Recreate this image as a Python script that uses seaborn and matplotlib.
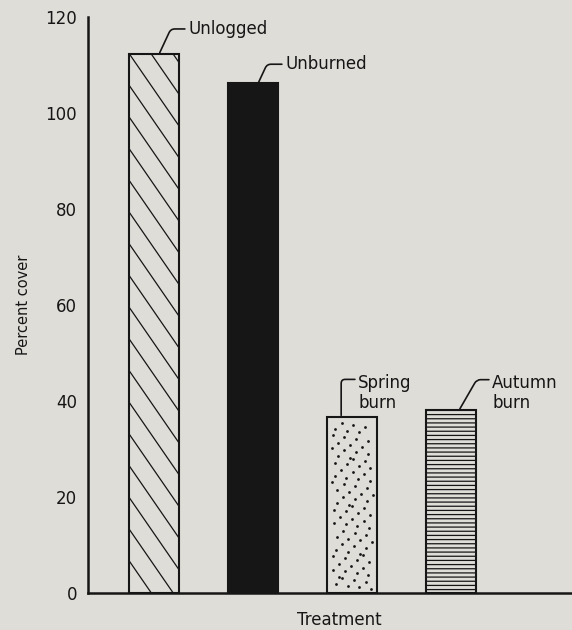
import numpy as np
import pandas as pd
import matplotlib
matplotlib.use("Agg")
import matplotlib.pyplot as plt
import seaborn as sns

# values
treatments = ["Unlogged", "Unburned", "Spring burn", "Autumn burn"]
cover = [112.3, 106.2, 36.7, 38.1]
bar_labels = ["Unlogged", "Unburned", "Spring\nburn", "Autumn\nburn"]
y_ticks = [0, 20, 40, 60, 80, 100, 120]

paper = "#dfddd8"
ink = "#161616"

sns.set_theme(style="white")
plt.rcParams["font.family"] = ["DejaVu Sans"]
plt.rcParams["hatch.linewidth"] = 0.9
plt.rcParams["text.color"] = ink

df = pd.DataFrame({"treatment": treatments, "cover": cover})

fig = plt.figure(figsize=(5.72, 6.30), dpi=100, facecolor=paper)
ax = fig.add_axes([0.154, 0.059, 0.846, 0.914])
ax.set_facecolor(paper)

fills = {"Unlogged": paper, "Unburned": ink, "Spring burn": paper, "Autumn burn": paper}
sns.barplot(data=df, x="treatment", y="cover", hue="treatment", palette=fills,
            width=0.5, saturation=1, edgecolor=ink, linewidth=1.5,
            legend=False, ax=ax)

ax.set_xlim(-0.667, 4.22)
ax.set_ylim(0, 120)
ax.set_yticks(y_ticks)
ax.set_xticks([])
ax.tick_params(axis="y", direction="in", length=10, width=1.6, pad=8,
               labelsize=12, colors=ink)
sns.despine(ax=ax)
for side in ["left", "bottom"]:
    ax.spines[side].set_linewidth(1.8)
    ax.spines[side].set_color(ink)

bars = sorted(ax.patches, key=lambda p: p.get_x())
to_px = ax.transData
to_data = ax.transData.inverted()

# diagonal hatching on the unlogged bar (steeper than mpl's 45 deg hatch)
p = bars[0]
(x0, yb), (x1, yt) = to_px.transform([(p.get_x(), 0), (p.get_x() + p.get_width(), p.get_height())])
step, slope = 31.7, 1.45
for k in range(-4, int((yt - yb) / step) + 2):
    ya = yt - k * step
    seg = to_data.transform([(x0, ya), (x1, ya - slope * (x1 - x0))])
    ln, = ax.plot(seg[:, 0], seg[:, 1], color=ink, lw=0.9)
    ln.set_clip_path(p)

# stipple on the spring burn bar
p = bars[2]
(x0, yb), (x1, yt) = to_px.transform([(p.get_x(), 0), (p.get_x() + p.get_width(), p.get_height())])
n_dots = int((x1 - x0) * (yt - yb) / 95)
g = 1.32471795724474602596
idx = np.arange(n_dots)
u = (0.5 + idx / g) % 1
v = (0.5 + idx / g ** 2) % 1
dots = to_data.transform(np.column_stack([x0 + 4 + u * (x1 - x0 - 8), yb + 3 + v * (yt - yb - 8)]))
ax.scatter(dots[:, 0], dots[:, 1], s=4, color=ink, linewidths=0)

# fine horizontal lines on the autumn burn bar
bars[3].set_hatch("----")

# leader labels
ppu = to_px.transform((1, 0))[0] - to_px.transform((0, 0))[0]
leader_dx = [5, 5, -11, 8]
text_off = [(29, 25), (27, 19), (17, 24), (33, 17)]
leader_angle = [65, 65, 90, 60]
anchor_y = [0.5, 0.5, 0.85, 0.85]
for bar, txt, dx, off, ang, ry in zip(bars, bar_labels, leader_dx, text_off, leader_angle, anchor_y):
    cx = bar.get_x() + bar.get_width() / 2
    ax.annotate(txt, xy=(cx + dx / ppu, bar.get_height()), xytext=off,
                textcoords="offset pixels", ha="left", va="center",
                fontsize=12, linespacing=1.15, color=ink,
                arrowprops=dict(arrowstyle="-", color=ink, lw=1.2,
                                shrinkA=0, shrinkB=1, relpos=(0, ry),
                                connectionstyle=f"angle,angleA=0,angleB={ang},rad=4"))

ax.set_xlabel("Treatment", fontsize=12, color=ink)
ax.xaxis.set_label_coords(0.52, -0.032)
ax.set_ylabel("Percent cover", fontsize=10.5, color=ink, labelpad=10)

fig.savefig("out.png", dpi=100, facecolor=paper)
